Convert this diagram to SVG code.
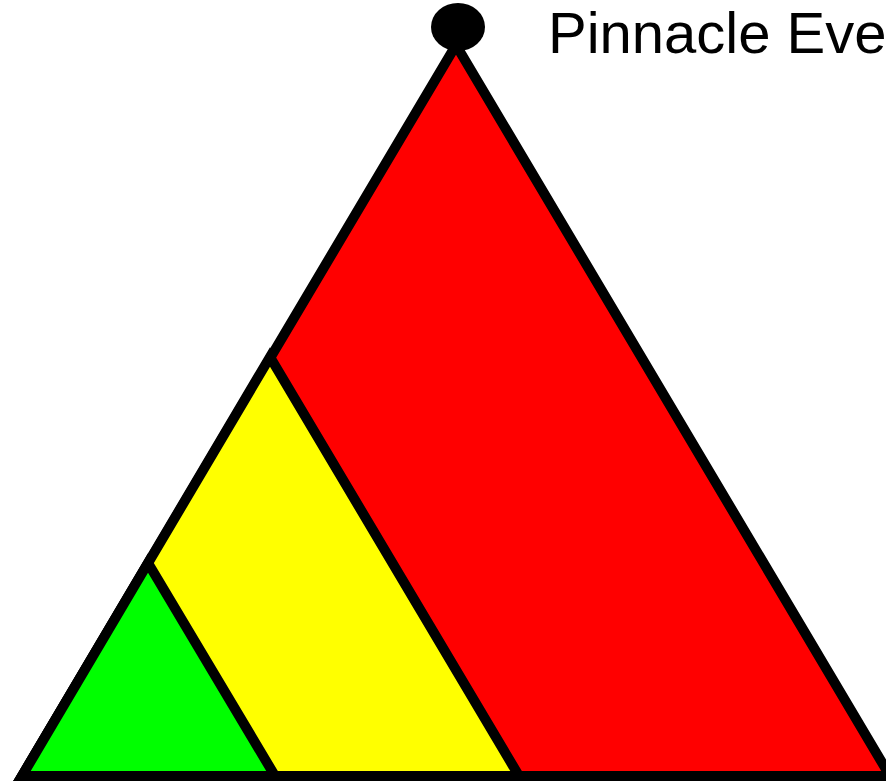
<svg xmlns="http://www.w3.org/2000/svg" width="886" height="781" viewBox="0 0 886 781">
<style>
.tri{stroke:#000;stroke-width:10;stroke-linejoin:miter}
.lbl{font-family:"Liberation Sans",Arial,sans-serif;font-size:58px;fill:#000}
</style>
<rect width="886" height="781" fill="#fff"/>
<g id="red"><polygon class="tri" fill="#ff0000" points="22,776 456,45 890,776"/></g>
<g id="yellow"><polygon class="tri" fill="#ffff00" points="22,776 270,357 519,776"/></g>
<g id="green"><polygon class="tri" fill="#00ff00" points="22,776 148,563 275,776"/></g>
<g id="pinnacle"><ellipse cx="458" cy="27" rx="27" ry="24" fill="#000"/>
<text class="lbl" x="548" y="53">Pinnacle Eve</text></g>
</svg>
